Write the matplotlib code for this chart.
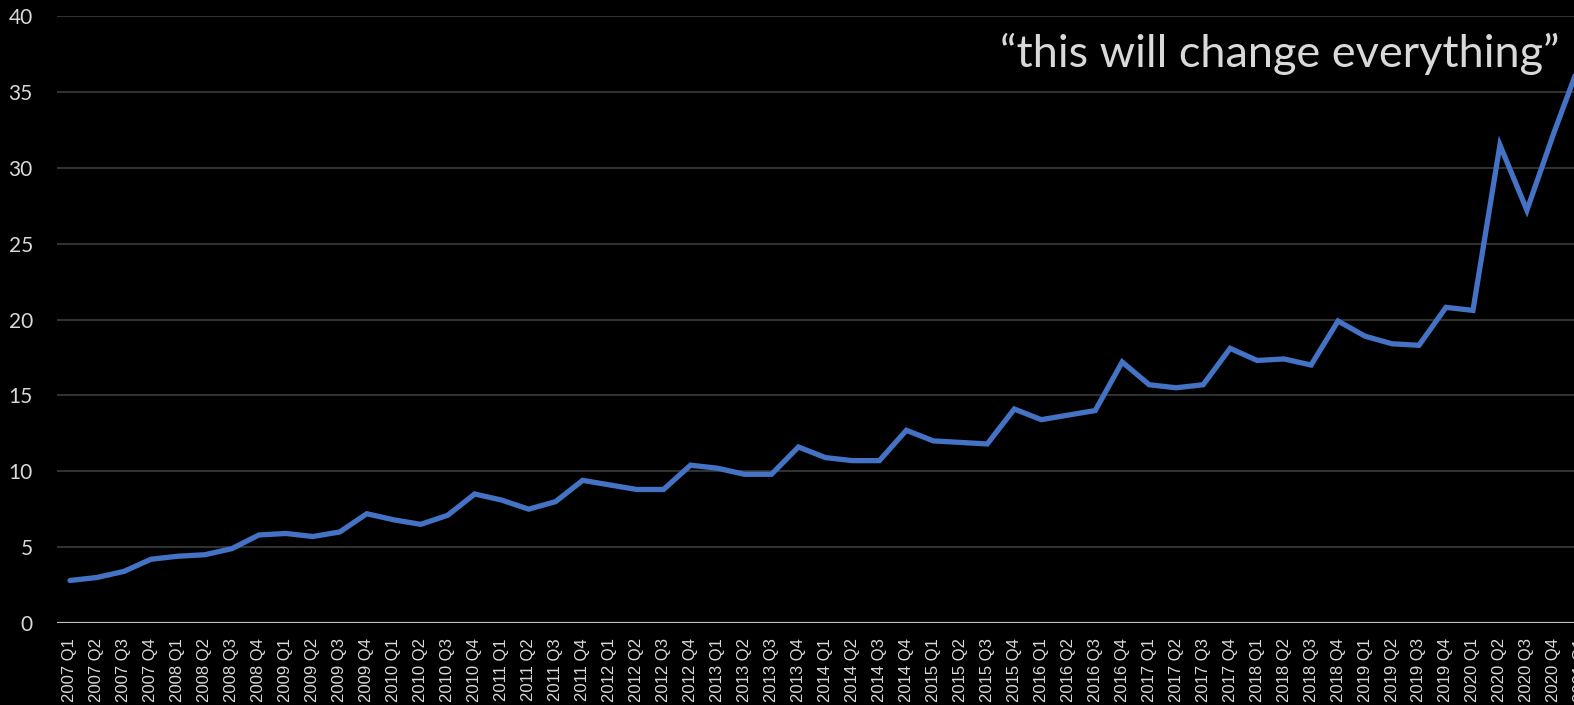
import matplotlib
matplotlib.use("Agg")
import matplotlib.pyplot as plt
import numpy as np

# Quarterly series, 2007 Q1 through 2021 Q1
quarters = [f"{y} Q{q}" for y in range(2007, 2022) for q in range(1, 5)][:57]
values = [
    2.8, 3.0, 3.4, 4.2,      # 2007
    4.4, 4.5, 4.9, 5.8,      # 2008
    5.9, 5.7, 6.0, 7.2,      # 2009
    6.8, 6.5, 7.1, 8.5,      # 2010
    8.1, 7.5, 8.0, 9.4,      # 2011
    9.1, 8.8, 8.8, 10.4,     # 2012
    10.2, 9.8, 9.8, 11.6,    # 2013
    10.9, 10.7, 10.7, 12.7,  # 2014
    12.0, 11.9, 11.8, 14.1,  # 2015
    13.4, 13.7, 14.0, 17.2,  # 2016
    15.7, 15.5, 15.7, 18.1,  # 2017
    17.3, 17.4, 17.0, 19.9,  # 2018
    18.9, 18.4, 18.3, 20.8,  # 2019
    20.6, 31.5, 27.2, 32.3,  # 2020
    37.1,                    # 2021 Q1
]
y_ticks = [0, 5, 10, 15, 20, 25, 30, 35, 40]
annotation = "\u201cthis will change everything\u201d"

W, H = 1574, 705
step = 26.98  # pixel width of one quarter
fig = plt.figure(figsize=(W / 100, H / 100), dpi=100, facecolor="black")
ax = fig.add_axes([56.5 / W, 82 / H, (len(quarters) * step) / W, 607 / H])
ax.set_facecolor("black")

x = np.arange(len(quarters))
ax.plot(x, values, color="#4472C4", linewidth=3.8, solid_joinstyle="miter",
        solid_capstyle="round", zorder=3)

ax.set_xlim(-0.5, len(quarters) - 0.5)
ax.set_ylim(0, 40)
ax.set_yticks(y_ticks)
ax.set_xticks(x)
ax.set_xticklabels(quarters, rotation=90, va="top", ha="center")

for lbl in ax.get_yticklabels():
    lbl.set_fontfamily("Lato")
for lbl in ax.get_xticklabels():
    lbl.set_fontfamily("Liberation Sans")

ax.tick_params(axis="y", length=0, pad=17, labelsize=15, labelcolor="#d9d9d9")
ax.tick_params(axis="x", length=0, pad=11, labelsize=12, labelcolor="#d9d9d9")

for v in y_ticks[1:]:
    ax.axhline(v, color="#3c3c3c", linewidth=1.2, zorder=1)
ax.axhline(0, color="#bfbfbf", linewidth=1.6, zorder=2)

for s in ax.spines.values():
    s.set_visible(False)

fig.text(1560 / W, 1 - 54 / H, annotation, ha="right", va="center",
         fontsize=32.5, color="#d9d9d9", fontfamily="Lato")

fig.savefig("out.png", dpi=100, facecolor="black")
